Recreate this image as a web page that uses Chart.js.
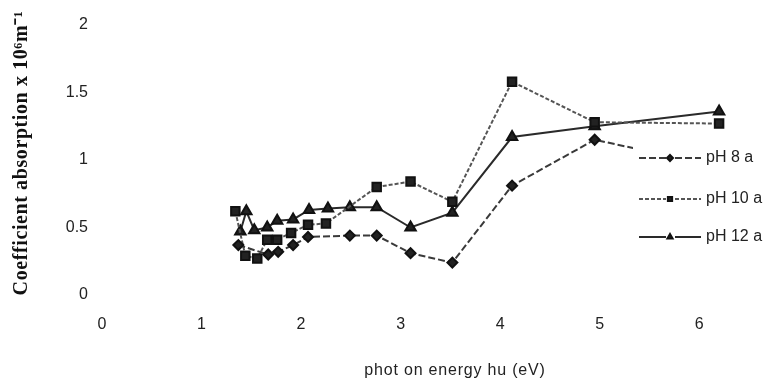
<!DOCTYPE html>
<html>
<head>
<meta charset="utf-8">
<script src="https://cdn.jsdelivr.net/npm/chart.js@4.4.1/dist/chart.umd.min.js"></script>
<style>
  html, body { margin:0; padding:0; background:#fff; }
  #wrap { width:771px; height:383px; position:relative; }
</style>
</head>
<body>
<div id="wrap"><canvas id="absChart" width="771" height="383"></canvas></div>
<script>

// photon energy (eV) and absorption coefficient (x 10^6 m^-1)
var energyPH8  = [1.37, 1.67, 1.77, 1.92, 2.07, 2.49, 2.76, 3.10, 3.52, 4.12, 4.95, 6.20];
var absPH8     = [0.37, 0.30, 0.32, 0.37, 0.43, 0.44, 0.44, 0.31, 0.24, 0.81, 1.15, 0.95];

var energyPH10 = [1.34, 1.44, 1.56, 1.66, 1.76, 1.90, 2.07, 2.25, 2.76, 3.10, 3.52, 4.12, 4.95, 6.20];
var absPH10    = [0.62, 0.29, 0.27, 0.41, 0.41, 0.46, 0.52, 0.53, 0.80, 0.84, 0.69, 1.58, 1.28, 1.27];

var energyPH12 = [1.39, 1.45, 1.53, 1.66, 1.76, 1.92, 2.08, 2.27, 2.49, 2.76, 3.10, 3.52, 4.12, 4.95, 6.20];
var absPH12    = [0.47, 0.62, 0.48, 0.50, 0.55, 0.56, 0.63, 0.64, 0.65, 0.65, 0.50, 0.61, 1.17, 1.25, 1.36];

var seriesLabels = ["pH 8 a", "pH 10 a", "pH 12 a"];
var xTicks = [0, 1, 2, 3, 4, 5, 6];
var yTicks = [0, 0.5, 1, 1.5, 2];

function toPoints(xs, ys){
    var pts = [];
    for(var i=0;i<xs.length;i++){
        pts.push({x:xs[i], y:ys[i]});
    }
    return pts;
}

var tickFont = {family:"'Liberation Sans', Arial, sans-serif", size:16};

// legend drawn over the right side of the plot, white box hides the line behind it
var sideLegend = {
    id:'sideLegend',
    afterDatasetsDraw: function(chart){
        var ctx = chart.ctx;
        ctx.save();
        ctx.fillStyle = '#fff';
        ctx.fillRect(633, 140, 138, 110);
        var rows = [158, 199, 237];
        chart.data.datasets.forEach(function(ds, i){
            var y = rows[i];
            ctx.strokeStyle = ds.borderColor;
            ctx.lineWidth = 2;
            ctx.setLineDash(ds.borderDash || []);
            ctx.beginPath();
            ctx.moveTo(639, y); ctx.lineTo(666, y);
            ctx.moveTo(675, y); ctx.lineTo(701, y);
            ctx.stroke();
            ctx.setLineDash([]);
            ctx.fillStyle = ds.pointBackgroundColor;
            ctx.strokeStyle = ds.pointBorderColor;
            Chart.helpers.drawPoint(ctx, {pointStyle:ds.pointStyle, radius:3, rotation:0, borderWidth:1}, 670, y);
            ctx.fillStyle = '#222';
            ctx.font = "16px 'Liberation Sans', Arial, sans-serif";
            ctx.textAlign = 'left';
            ctx.textBaseline = 'middle';
            ctx.fillText(ds.label, 706, y);
        });
        ctx.restore();
    },
    afterDraw: function(chart){
        var ctx = chart.ctx;
        ctx.save();
        ctx.fillStyle = '#111';
        ctx.textAlign = 'center';
        ctx.textBaseline = 'middle';
        ctx.translate(22, 153);
        ctx.rotate(-Math.PI/2);
        ctx.font = "bold 20px 'Liberation Serif', 'Times New Roman', serif";
        ctx.letterSpacing = '0.6px';
        ctx.fillText("Coefficient absorption x 10\u2076m\u207B\u00B9", 0, 0);
        ctx.restore();

        ctx.save();
        ctx.fillStyle = '#222';
        ctx.textAlign = 'center';
        ctx.textBaseline = 'middle';
        ctx.font = "16px 'Liberation Sans', Arial, sans-serif";
        ctx.letterSpacing = '0.8px';
        ctx.fillText("phot on energy hu (eV)", 455, 371);
        ctx.restore();
    }
};

var chart = new Chart(document.getElementById("absChart"), {
    type: 'scatter',
    data: {
        datasets: [
            {
                label: seriesLabels[0],
                data: toPoints(energyPH8, absPH8),
                showLine: true,
                borderColor: '#3a3a3a',
                borderWidth: 2,
                borderDash: [7,3],
                pointStyle: 'rectRot',
                pointRadius: 5,
                pointBackgroundColor: '#222',
                pointBorderColor: '#111'
            },
            {
                label: seriesLabels[1],
                data: toPoints(energyPH10, absPH10),
                showLine: true,
                borderColor: '#555',
                borderWidth: 2,
                borderDash: [4,2],
                pointStyle: 'rect',
                pointRadius: 6,
                pointBackgroundColor: '#222',
                pointBorderColor: '#111'
            },
            {
                label: seriesLabels[2],
                data: toPoints(energyPH12, absPH12),
                showLine: true,
                borderColor: '#2a2a2a',
                borderWidth: 2,
                pointStyle: 'triangle',
                pointRadius: 6,
                pointBackgroundColor: '#222',
                pointBorderColor: '#111'
            }
        ]
    },
    options: {
        responsive: false,
        animation: false,
        devicePixelRatio: 1,
        layout: { padding: {top:25, right:32, left:0, bottom:0} },
        plugins: {
            legend: { display:false },
            tooltip: { enabled:false }
        },
        scales: {
            x: {
                type: 'linear',
                min: 0,
                max: 6.4,
                grid: { display:false, drawTicks:false },
                border: { display:false },
                afterBuildTicks: function(scale){
                    scale.ticks = xTicks.map(function(v){ return {value:v}; });
                },
                afterFit: function(scale){ scale.height = 88; },
                ticks: { font: tickFont, color:'#222', padding:20, maxRotation:0,
                         callback: function(v){ return String(v); } }
            },
            y: {
                min: 0,
                max: 2,
                grid: { display:false, drawTicks:false },
                border: { display:false },
                afterBuildTicks: function(scale){
                    scale.ticks = yTicks.map(function(v){ return {value:v}; });
                },
                afterFit: function(scale){ scale.width = 102; },
                ticks: { font: tickFont, color:'#222', padding:14,
                         callback: function(v){ return String(v); } }
            }
        }
    },
    plugins: [sideLegend]
});

</script>
</body>
</html>
